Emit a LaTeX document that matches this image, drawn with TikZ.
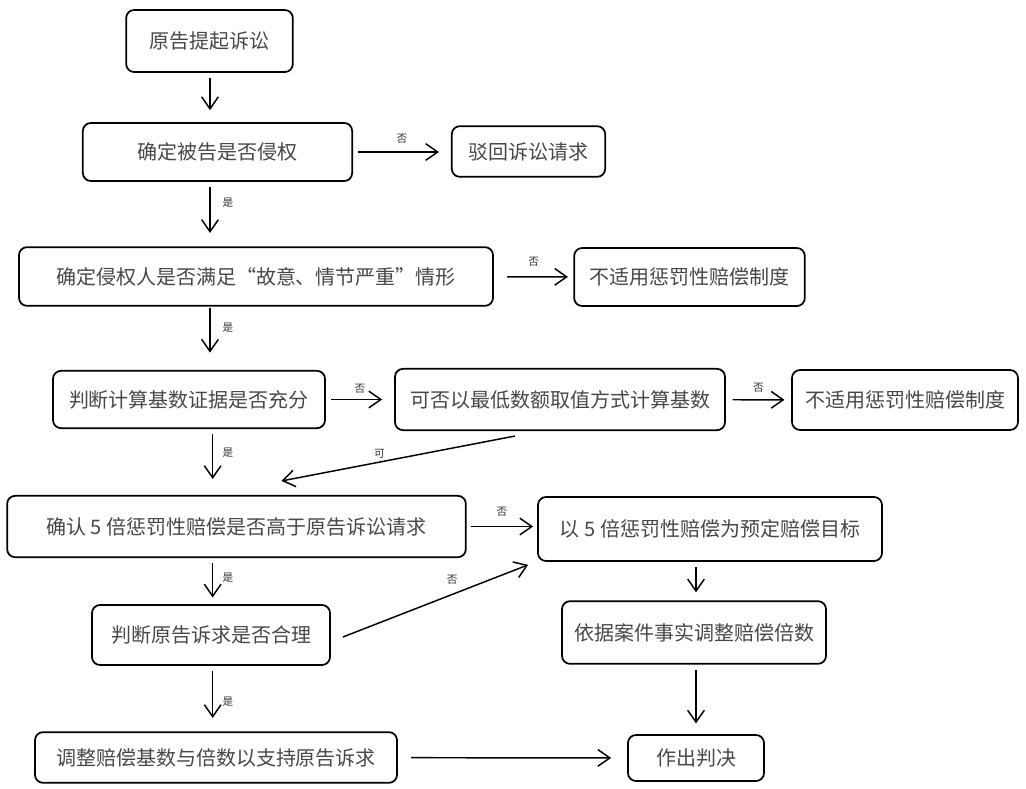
\documentclass[tikz,border=0pt]{standalone}
\usepackage{fontspec}
\setmainfont{Noto Sans CJK SC}
\usetikzlibrary{arrows.meta,calc}

\begin{document}
\begin{tikzpicture}[x=0.75pt, y=-0.75pt,
    stage/.style={draw, line width=1.3pt, rounded corners=6pt, inner sep=0pt,
        text=black!72, font=\fontsize{15}{18}\selectfont},
    flow/.style={line width=1.1pt, -{Straight Barb[length=9pt,width=12.5pt,line width=1.1pt]},
        shorten <=4pt, shorten >=6pt},
    tag/.style={font=\fontsize{8}{9}\selectfont, text=black!80, inner sep=1pt}]
    \useasboundingbox (0,0) rectangle (1026,789);

    % Left column
    \node[stage, minimum width=125pt, minimum height=46.5pt] (start) at (209.5,41) {原告提起诉讼};
    \node[stage, minimum width=202pt, minimum height=43.5pt] (infringe) at (217.5,152) {确定被告是否侵权};
    \node[stage, minimum width=355.5pt, minimum height=44pt] (intent) at (256,276.5) {确定侵权人是否满足“故意、情节严重”情形};
    \node[stage, minimum width=204pt, minimum height=43pt] (evidence) at (189,399.5) {判断计算基数证据是否充分};
    \node[stage, minimum width=344pt, minimum height=46pt] (five) at (236.5,526.5) {确认 5 倍惩罚性赔偿是否高于原告诉讼请求};
    \node[stage, minimum width=178.5pt, minimum height=45pt] (reason) at (211,635) {判断原告诉求是否合理};
    \node[stage, minimum width=271.5pt, minimum height=38pt] (support) at (216,757.5) {调整赔偿基数与倍数以支持原告诉求};

    % Right column
    \node[stage, minimum width=115pt, minimum height=38pt] (reject) at (528.5,151.5) {驳回诉讼请求};
    \node[stage, minimum width=173pt, minimum height=43.5pt] (noapplyA) at (689.5,277) {不适用惩罚性赔偿制度};
    \node[stage, minimum width=247.5pt, minimum height=46pt] (minimum) at (560,399.5) {可否以最低数额取值方式计算基数};
    \node[stage, minimum width=169.5pt, minimum height=45pt] (noapplyB) at (905,400) {不适用惩罚性赔偿制度};
    \node[stage, minimum width=258pt, minimum height=48pt] (target) at (710,529) {以 5 倍惩罚性赔偿为预定赔偿目标};
    \node[stage, minimum width=198pt, minimum height=47pt] (adjust) at (694,632.5) {依据案件事实调整赔偿倍数};
    \node[stage, minimum width=102pt, minimum height=34.5pt] (judge) at (696,758) {作出判决};

    % Downward steps
    \coordinate (spine) at (210,0);
    \draw[flow, shorten >=9pt] (start.south -| spine) -- (infringe.north -| spine);
    \draw[flow, shorten >=10pt] (infringe.south -| spine) -- (intent.north -| spine) node[pos=0.32, right=8pt, tag] {是};
    \draw[flow, shorten <=1pt, shorten >=13pt] (intent.south -| spine) -- (evidence.north -| spine) node[pos=0.33, right=8pt, tag] {是};
    \draw[flow, shorten >=12pt] ([xshift=2pt]evidence.south -| spine) -- ([xshift=2pt]five.north -| spine) node[pos=0.36, right=6pt, tag] {是};
    \draw[flow, shorten >=5pt] ([xshift=2pt]five.south -| spine) -- ([xshift=2pt]reason.north -| spine) node[pos=0.42, right=6pt, tag] {是};
    \draw[flow, shorten >=10pt] ([xshift=2pt]reason.south -| spine) -- ([xshift=2pt]support.north -| spine) node[pos=0.54, right=6pt, tag] {是};
    \draw[flow] (target.south -| judge) -- (adjust.north -| judge);
    \draw[flow, shorten >=8pt] (adjust.south -| judge) -- (judge.north);

    % Sideways steps
    \draw[flow, shorten >=9pt] (infringe.east) -- (infringe.east -| reject.west) node[midway, above=5pt, tag] {否};
    \draw[flow, shorten <=10pt, shorten >=4pt] (intent) -- (noapplyA) node[midway, above=6pt, tag] {否};
    \draw[flow, shorten >=9pt] (evidence) -- (minimum) node[midway, above=3pt, tag] {否};
    \draw[flow, shorten <=5pt, shorten >=5pt] (minimum) -- (noapplyB) node[midway, above=4pt, tag] {否};
    \draw[flow, shorten <=3pt, shorten >=3pt] (five.east) -- (five.east -| target.west) node[midway, above=6pt, tag] {否};
    \draw[flow, shorten <=10pt, shorten >=12pt] (support) -- (judge);

    % Diagonal steps
    \draw[flow, shorten <=0pt, shorten >=0pt] ($(minimum.south)+(-45,5)$) -- ($(five.north)+(45,-14)$) node[pos=0.58, above=1pt, tag] {可};
    \draw[flow, shorten <=0pt, shorten >=0pt] ($(reason.east)+(12,2)$) -- ($(target.south west)+(-9,3)$) node[pos=0.59, above=6pt, tag] {否};
\end{tikzpicture}
\end{document}
